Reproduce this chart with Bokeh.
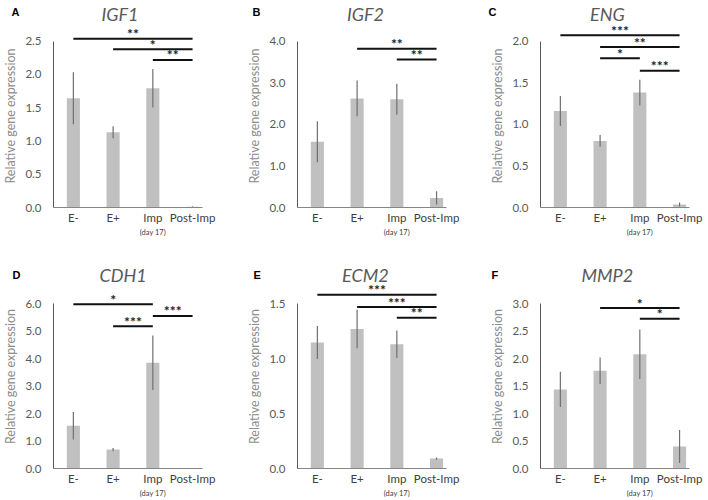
from bokeh.plotting import figure
from bokeh.models import (Range1d, FixedTicker, NumeralTickFormatter, ColumnDataSource, Title,
                          LinearAxis)
from bokeh.layouts import gridplot
from bokeh.embed import file_html
from bokeh.resources import INLINE
from bokeh.core.properties import value

FONT = "Lato"

categories = ["E-", "E+", "Imp", "Post-Imp"]
sub_label = "(day 17)"
panel_letters = ["A", "B", "C", "D", "E", "F"]
genes = ["IGF1", "IGF2", "ENG", "CDH1", "ECM2", "MMP2"]

igf1_mean = [1.64, 1.13, 1.79, 0.01]
igf1_err = [0.39, 0.09, 0.29, 0.005]
igf2_mean = [1.58, 2.62, 2.60, 0.23]
igf2_err = [0.49, 0.43, 0.37, 0.16]
eng_mean = [1.16, 0.80, 1.38, 0.036]
eng_err = [0.18, 0.07, 0.155, 0.025]
cdh1_mean = [1.56, 0.69, 3.85, 0.01]
cdh1_err = [0.50, 0.06, 0.99, 0.005]
ecm2_mean = [1.147, 1.27, 1.13, 0.09]
ecm2_err = [0.15, 0.175, 0.125, 0.01]
mmp2_mean = [1.44, 1.78, 2.08, 0.40]
mmp2_err = [0.32, 0.24, 0.45, 0.30]

igf1_sig = [(0, 3, 2.535, "**"), (1, 3, 2.375, "*"), (2, 3, 2.215, "**")]
igf2_sig = [(1, 3, 3.815, "**"), (2, 3, 3.557, "**")]
eng_sig = [(0, 3, 2.069, "***"), (1, 3, 1.927, "**"), (1, 2, 1.794, "*"), (2, 3, 1.644, "***")]
cdh1_sig = [(0, 2, 5.976, "*"), (1, 2, 5.18, "***"), (2, 3, 5.554, "***")]
ecm2_sig = [(0, 3, 1.582, "***"), (1, 3, 1.470, "***"), (2, 3, 1.373, "**")]
mmp2_sig = [(1, 3, 2.921, "*"), (2, 3, 2.728, "*")]

y_ticks = [
    [0.0, 0.5, 1.0, 1.5, 2.0, 2.5],
    [0.0, 1.0, 2.0, 3.0, 4.0],
    [0.0, 0.5, 1.0, 1.5, 2.0],
    [0.0, 1.0, 2.0, 3.0, 4.0, 5.0, 6.0],
    [0.0, 0.5, 1.0, 1.5],
    [0.0, 0.5, 1.0, 1.5, 2.0, 2.5, 3.0],
]

means = [igf1_mean, igf2_mean, eng_mean, cdh1_mean, ecm2_mean, mmp2_mean]
errs = [igf1_err, igf2_err, eng_err, cdh1_err, ecm2_err, mmp2_err]
sigs = [igf1_sig, igf2_sig, eng_sig, cdh1_sig, ecm2_sig, mmp2_sig]

letter_dx = [-42, -45, -52, -41, -44, -49]
title_dx = [48.0, 49.5, 49.5, 46.0, 44.5, 41.0]

XS = [0, 1, 2, 3]
X0, X1 = -0.5, 3.25
FRAME_W = 153
LEFT = 49
WIDTHS = [244, 243, 221]


def make_panel(i):
    col = i % 3
    row = i // 3
    width = WIDTHS[col]
    right = width - LEFT - FRAME_W
    if row == 0:
        height, top_b, frame_h = 250, 24, 183
        tick_px = 166.5
        gene_standoff, letter_standoff = 0.0, -35.8
    else:
        height, top_b, frame_h = 250, 34, 185
        tick_px = 165.7
        gene_standoff, letter_standoff = -3.6, -32.6
    bottom_b = height - top_b - frame_h
    tmax = y_ticks[i][-1]
    ppu = tick_px / tmax
    y_end = tmax + (frame_h - tick_px) / ppu

    p = figure(width=width, height=height, output_backend="svg", toolbar_location=None,
               x_range=Range1d(X0, X1), y_range=Range1d(0, y_end),
               min_border_left=LEFT, min_border_right=right,
               min_border_top=top_b, min_border_bottom=bottom_b)
    p.outline_line_color = None
    p.xgrid.visible = False
    p.ygrid.visible = False
    p.background_fill_color = "white"
    p.border_fill_color = "white"

    src = ColumnDataSource(dict(x=XS, top=means[i],
                                lo=[m - e for m, e in zip(means[i], errs[i])],
                                hi=[m + e for m, e in zip(means[i], errs[i])]))
    p.vbar(x="x", top="top", width=0.33, source=src, fill_color="#c0c0c0", line_color=None)
    p.segment(x0="x", y0="lo", x1="x", y1="hi", source=src, line_color="#6f6f6f", line_width=1.2)

    sx0 = [XS[a] for a, b, h, s in sigs[i]]
    sx1 = [XS[b] for a, b, h, s in sigs[i]]
    sy = [h for a, b, h, s in sigs[i]]
    sty = [h + 5.0 / ppu for a, b, h, s in sigs[i]]
    stxt = [s for a, b, h, s in sigs[i]]
    smid = [(XS[a] + XS[b]) / 2 for a, b, h, s in sigs[i]]
    ssrc = ColumnDataSource(dict(x0=sx0, x1=sx1, y=sy, ty=sty, t=stxt, xm=smid))
    p.segment(x0="x0", y0="y", x1="x1", y1="y", source=ssrc, line_color="#111111", line_width=2)
    p.text(x="xm", y="ty", text="t", source=ssrc, text_align="center", text_baseline="alphabetic",
           text_font_size="14px", text_font=value(FONT), text_color="#222222",
           text_font_style="bold")

    xa = p.xaxis[0]
    xa.ticker = FixedTicker(ticks=XS)
    xa.major_label_overrides = {0: categories[0], 1: categories[1], 2: categories[2], 3: categories[3]}
    xa.major_tick_line_color = None
    xa.major_tick_out = 0
    xa.major_tick_in = 0
    xa.minor_tick_line_color = None
    xa.axis_line_color = "#868686"
    xa.axis_line_width = 1
    xa.major_label_text_font = FONT
    xa.major_label_text_font_size = "11.5px"
    xa.major_label_text_color = "#404040"
    xa.major_label_standoff = 3

    # secondary axis carrying the "(day 17)" note under "Imp"
    xa2 = LinearAxis(ticker=FixedTicker(ticks=[XS[2]]),
                     major_label_overrides={XS[2]: sub_label},
                     axis_line_color=None, major_tick_line_color=None, minor_tick_line_color=None,
                     major_tick_out=0, major_tick_in=0,
                     major_label_standoff=1, major_label_text_font=FONT,
                     major_label_text_font_size="7.5px", major_label_text_color="#404040")
    p.add_layout(xa2, "below")

    ya = p.yaxis[0]
    ya.ticker = FixedTicker(ticks=y_ticks[i])
    ya.formatter = NumeralTickFormatter(format="0.0")
    ya.bounds = (0, tmax)
    ya.major_tick_line_color = None
    ya.major_tick_out = 0
    ya.major_tick_in = 0
    ya.minor_tick_line_color = None
    ya.axis_line_color = "#595959"
    ya.axis_line_width = 1
    ya.major_label_text_font = FONT
    ya.major_label_text_font_size = "11.5px"
    ya.major_label_text_color = "#595959"
    ya.major_label_standoff = 12
    ya.axis_label = "Relative gene expression"
    ya.axis_label_text_font = FONT
    ya.axis_label_text_font_size = "12.5px"
    ya.axis_label_text_font_style = "normal"
    ya.axis_label_text_color = "#8c8c8c"
    ya.axis_label_standoff = 4

    # gene name title (row nearest the frame) and panel letter (zero-height row above it)
    p.add_layout(Title(text=genes[i], align="left", offset=title_dx[i], standoff=gene_standoff,
                       vertical_align="bottom", text_font=FONT, text_font_size="18px",
                       text_font_style="italic", text_color="#595959"), "above")
    p.add_layout(Title(text=panel_letters[i], align="left", offset=letter_dx[i],
                       standoff=letter_standoff, vertical_align="bottom",
                       text_font="Liberation Sans", text_font_size="11px",
                       text_font_style="bold", text_color="#000000"), "above")
    return p


panels = [make_panel(i) for i in range(6)]
grid = gridplot([panels[0:3], panels[3:6]], toolbar_location=None)

open("out.html", "w").write(file_html(grid, INLINE))
